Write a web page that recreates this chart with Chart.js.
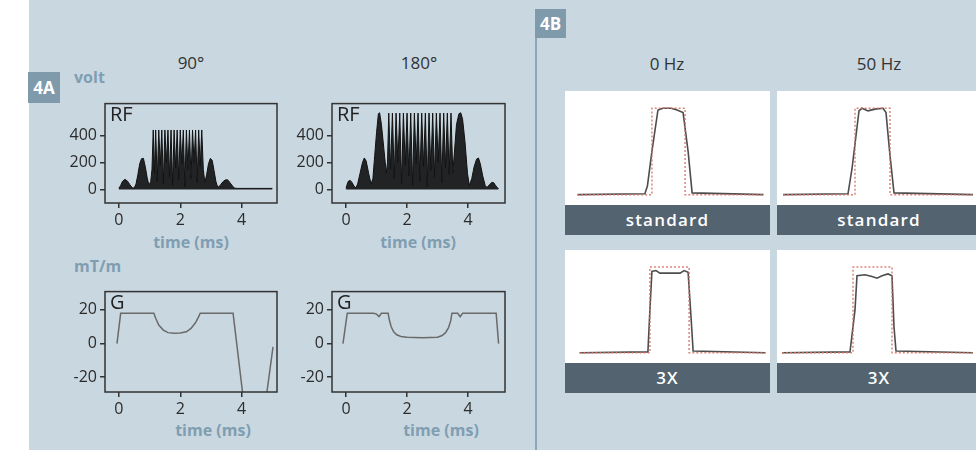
<!DOCTYPE html>
<html>
<head>
<meta charset="utf-8">
<script src="https://cdn.jsdelivr.net/npm/chart.js@4.4.1/dist/chart.umd.min.js"></script>
<style>
  body { margin: 0; width: 976px; height: 450px; overflow: hidden; background: #c9d7e0; font-family: "Open Sans", sans-serif; position: relative; }
  .abs { position: absolute; }
  .strip { left: 0; top: 0; width: 29px; height: 450px; background: #fff; }
  .tag { background: #7e9aab; color: #fff; font-weight: bold; font-size: 17px; text-align: center; }
  .title { color: #333; font-size: 17px; transform: translate(-50%, -50%); white-space: nowrap; }
  .axt { color: #7f9eb1; font-weight: bold; font-size: 16px; transform: translate(-50%, -50%); white-space: nowrap; }
  .unit { color: #7f9eb1; font-weight: bold; font-size: 16px; white-space: nowrap; }
  .bar { background: #53636f; color: #fff; font-weight: 600; font-size: 17px; letter-spacing: 1.2px; text-align: center; }
  .divider { left: 535px; top: 38px; width: 2px; height: 412px; background: #8ba6b6; }
  canvas.prof { background: #fff; }
</style>
</head>
<body>
<div class="abs strip"></div>
<div class="abs tag" style="left:28px;top:72px;width:32px;height:31px;line-height:31px;">4A</div>
<div class="abs tag" style="left:535px;top:9px;width:31px;height:29px;line-height:29px;">4B</div>
<div class="abs divider"></div>

<div class="abs title" style="left:191px;top:62px;">90°</div>
<div class="abs title" style="left:419px;top:62px;">180°</div>
<div class="abs unit" style="left:74px;top:66px;">volt</div>
<div class="abs unit" style="left:74px;top:255px;">mT/m</div>
<div class="abs axt" style="left:191px;top:242px;">time (ms)</div>
<div class="abs axt" style="left:418px;top:242px;">time (ms)</div>
<div class="abs axt" style="left:213px;top:430px;">time (ms)</div>
<div class="abs axt" style="left:441px;top:430px;">time (ms)</div>

<div class="abs title" style="left:667px;top:63px;">0 Hz</div>
<div class="abs title" style="left:879px;top:63px;">50 Hz</div>

<canvas id="rf90" class="abs"></canvas>
<canvas id="rf180" class="abs"></canvas>
<canvas id="g90" class="abs"></canvas>
<canvas id="g180" class="abs"></canvas>

<canvas id="p1" class="abs prof"></canvas>
<canvas id="p2" class="abs prof"></canvas>
<canvas id="p3" class="abs prof"></canvas>
<canvas id="p4" class="abs prof"></canvas>

<div class="abs bar" style="left:565px;top:205px;width:205px;height:30px;line-height:30px;">standard</div>
<div class="abs bar" style="left:777px;top:205px;width:204px;height:30px;line-height:30px;">standard</div>
<div class="abs bar" style="left:565px;top:363px;width:205px;height:30px;line-height:30px;">3X</div>
<div class="abs bar" style="left:777px;top:363px;width:204px;height:30px;line-height:30px;">3X</div>

<script>
// RF amplitude (volt) vs time (ms)
var rf90Time = [0.0, 0.06, 0.12, 0.2, 0.28, 0.36, 0.44, 0.5, 0.56, 0.62, 0.68, 0.74, 0.8, 0.86, 0.92, 0.98, 1.04, 1.08,
  1.12, 1.16, 1.20, 1.25, 1.30, 1.35, 1.40, 1.45, 1.50, 1.55, 1.60, 1.65, 1.70, 1.75, 1.80, 1.85, 1.90, 1.95, 2.00,
  2.05, 2.10, 2.15, 2.20, 2.25, 2.30, 2.35, 2.40, 2.45, 2.50, 2.55, 2.60, 2.65, 2.70,
  2.75, 2.8, 2.86, 2.92, 2.98, 3.04, 3.1, 3.16, 3.22, 3.3, 3.38, 3.46, 3.54, 3.62, 3.7, 3.77, 3.85, 4.3, 5.0];
var rf90Volt = [8, 30, 60, 75, 62, 35, 12, 10, 40, 110, 190, 228, 230, 170, 90, 30, 60, 150,
  440, 120, 440, 60, 440, 180, 440, 40, 440, 200, 440, 90, 440, 30, 440, 160, 440, 70, 440,
  190, 440, 20, 440, 150, 440, 80, 440, 200, 440, 50, 440, 170, 440,
  150, 50, 110, 190, 230, 215, 140, 60, 15, 30, 55, 70, 72, 50, 25, 10, 8, 8, 8];

var rf180Time = [0.0, 0.04, 0.08, 0.14, 0.2, 0.26, 0.32, 0.38, 0.46, 0.54, 0.6, 0.66, 0.74, 0.82, 0.88, 0.94, 1.0, 1.06, 1.1, 1.16, 1.24, 1.32, 1.36,
  1.40, 1.46, 1.52, 1.58, 1.64, 1.70, 1.76, 1.82, 1.88, 1.94, 2.00, 2.06, 2.12, 2.18, 2.24, 2.30, 2.36, 2.42,
  2.48, 2.54, 2.60, 2.66, 2.72, 2.78, 2.84, 2.90, 2.96, 3.02, 3.08, 3.14, 3.20, 3.26, 3.32, 3.38, 3.44,
  3.50, 3.56, 3.62, 3.70, 3.76, 3.82, 3.9, 3.98, 4.04, 4.12, 4.2, 4.28, 4.34, 4.4, 4.48, 4.56, 4.62, 4.7, 4.78, 4.84, 4.9, 4.96, 5.0];
var rf180Volt = [8, 40, 62, 67, 50, 25, 12, 40, 120, 200, 233, 210, 120, 40, 80, 250, 420, 560, 567, 480, 300, 120, 200,
  565, 150, 565, 80, 565, 200, 565, 40, 565, 180, 565, 100, 565, 30, 565, 190, 565, 60,
  565, 170, 565, 20, 565, 140, 565, 90, 565, 200, 565, 50, 565, 160, 565, 110, 565,
  120, 300, 480, 560, 567, 520, 350, 120, 30, 80, 170, 225, 233, 190, 100, 30, 15, 35, 53, 50, 30, 12, 8];

// gradient (mT/m) vs time (ms)
var g90Time = [-0.06, 0.06, 0.5, 1.14, 1.2, 1.3, 1.45, 1.6, 1.8, 2.0, 2.2, 2.35, 2.5, 2.6, 2.65, 3.2, 3.72, 4.1, 4.74, 5.02];
var g90Grad = [0, 18, 18, 18, 15, 11, 8, 6.5, 6.2, 6.3, 7, 9, 12.5, 16, 18, 18, 18, -40, -40, -2];
var g180Time = [-0.1, 0.04, 0.9, 1.0, 1.08, 1.16, 1.38, 1.42, 1.48, 1.56, 1.66, 1.8, 2.0, 2.5, 3.0, 3.15, 3.26, 3.36, 3.43, 3.47, 3.66, 3.74, 3.82, 4.92, 5.0];
var g180Grad = [0, 18, 18, 17.5, 16, 18, 18, 14, 10, 7, 5.2, 4.2, 3.7, 3.4, 3.8, 4.8, 6.5, 9.5, 13.5, 18, 18, 16, 18, 18, 0];

var timeTicks = [0, 2, 4];
var voltTicks = [0, 200, 400];
var gradTicks = [-20, 0, 20];

// slice profiles: position (mm), normalized signal
var p1Ideal = { x: [-45, -7.75, -7.75, 8.75, 8.75, 47.75], y: [0, 0, 1, 1, 0, 0] };
var p1Meas = { x: [-44.75, -11.25, -10, -7.75, -4.75, -2.25, 1.75, 4.75, 7.75, 10.25, 12.25, 47.75],
  y: [0, 0.01, 0.1, 0.5, 0.98, 1.0, 1.0, 0.98, 0.95, 0.5, 0.02, 0] };
var p2Ideal = { x: [-48, -12, -12, 5.5, 5.5, 47], y: [0, 0, 1, 1, 0, 0] };
var p2Meas = { x: [-48, -15.5, -13.5, -10, -8.5, -5.5, -2, 2, 3.5, 5.3, 7.5, 47],
  y: [0, 0.01, 0.3, 0.97, 1.0, 0.97, 0.99, 1.0, 0.95, 0.5, 0.02, 0] };
var p3Ideal = { x: [-43.75, -8.75, -8.75, 10.75, 10.75, 48.75], y: [0, 0, 1, 1, 0, 0] };
var p3Meas = { x: [-43.75, -9.75, -8.75, -7.75, -5.75, -3.75, 2.25, 6.25, 8.25, 10.25, 11.75, 12.75, 48.75],
  y: [0, 0.01, 0.5, 0.95, 0.96, 0.93, 0.93, 0.93, 0.96, 0.94, 0.4, 0.02, 0] };
var p4Ideal = { x: [-48.5, -13, -13, 6.5, 6.5, 47], y: [0, 0, 1, 1, 0, 0] };
var p4Meas = { x: [-48.5, -14.5, -12, -11, -7, -3.5, -1, 1.5, 4.5, 6.5, 7.5, 8.5, 47],
  y: [0, 0.01, 0.5, 0.9, 0.91, 0.89, 0.87, 0.9, 0.92, 0.9, 0.3, 0.02, 0] };

function pts(xs, ys) {
  return xs.map(function (x, i) { return { x: x, y: ys[i] }; });
}

var tickFont = { family: "Open Sans", size: 16 };

var framePlugin = {
  id: 'frame',
  afterDraw: function (chart, args, opts) {
    var a = chart.chartArea, c = chart.ctx;
    c.save();
    c.strokeStyle = '#333';
    c.lineWidth = 1.5;
    c.strokeRect(a.left, a.top, a.right - a.left, a.bottom - a.top);
    if (opts.label) {
      c.fillStyle = '#222';
      c.font = '20px "Open Sans"';
      c.textBaseline = 'top';
      c.fillText(opts.label, a.left + 5, a.top + 2);
    }
    c.restore();
  }
};

function axis(min, max, ticks, isX) {
  return {
    type: 'linear',
    min: min,
    max: max,
    afterBuildTicks: function (s) { s.ticks = ticks.map(function (v) { return { value: v }; }); },
    afterFit: function (s) { if (isX) s.height = 30; else s.width = 60; },
    grid: { drawOnChartArea: false, drawTicks: true, tickLength: 5, color: '#333', lineWidth: 1.5 },
    border: { display: false },
    ticks: { font: tickFont, color: '#2b2b2b', padding: 3, autoSkip: false, maxRotation: 0 }
  };
}

function sigChart(id, box, xs, ys, xr, yr, yTicks, label, filled) {
  var cv = document.getElementById(id);
  var w = box.w + 62, h = box.h + 31;
  cv.width = w; cv.height = h;
  cv.style.left = (box.l - 60) + 'px';
  cv.style.top = (box.t - 1) + 'px';
  cv.style.width = w + 'px';
  cv.style.height = h + 'px';
  new Chart(cv, {
    type: 'line',
    data: {
      datasets: [{
        data: pts(xs, ys),
        borderColor: filled ? '#111' : '#6a6a6a',
        backgroundColor: filled ? 'rgba(10,10,10,0.88)' : 'transparent',
        borderWidth: filled ? 1 : 1.5,
        fill: filled ? 'origin' : false,
        pointRadius: 0,
        tension: 0
      }]
    },
    options: {
      responsive: false,
      animation: false,
      devicePixelRatio: 1,
      layout: { padding: { top: 1, right: 2, left: 0, bottom: 0 } },
      scales: {
        x: axis(xr[0], xr[1], timeTicks, true),
        y: axis(yr[0], yr[1], yTicks, false)
      },
      plugins: { legend: { display: false }, tooltip: { enabled: false }, frame: { label: label } }
    },
    plugins: [framePlugin]
  });
}

sigChart('rf90', { l: 105, t: 92, w: 172, h: 111 }, rf90Time, rf90Volt, [-0.45, 5.15], [-100, 635], voltTicks, 'RF', true);
sigChart('rf180', { l: 332, t: 92, w: 173, h: 111 }, rf180Time, rf180Volt, [-0.46, 5.21], [-100, 635], voltTicks, 'RF', true);
sigChart('g90', { l: 105, t: 280, w: 172, h: 112 }, g90Time, g90Grad, [-0.45, 5.15], [-28.8, 30.9], gradTicks, 'G', false);
sigChart('g180', { l: 332, t: 280, w: 173, h: 112 }, g180Time, g180Grad, [-0.46, 5.21], [-28.8, 30.9], gradTicks, 'G', false);

function profChart(id, box, ideal, meas) {
  var cv = document.getElementById(id);
  cv.width = box.w; cv.height = box.h;
  cv.style.left = box.l + 'px';
  cv.style.top = box.t + 'px';
  cv.style.width = box.w + 'px';
  cv.style.height = box.h + 'px';
  new Chart(cv, {
    type: 'line',
    data: {
      datasets: [{
        data: pts(ideal.x, ideal.y),
        borderColor: 'rgba(214,112,98,0.85)',
        borderDash: [2, 2],
        borderWidth: 1.5,
        pointRadius: 0,
        fill: false
      }, {
        data: pts(meas.x, meas.y),
        borderColor: '#4d4d4d',
        borderWidth: 1.6,
        pointRadius: 0,
        fill: false,
        tension: 0
      }]
    },
    options: {
      responsive: false,
      animation: false,
      devicePixelRatio: 1,
      layout: { padding: 0 },
      scales: {
        x: { type: 'linear', min: -51, max: 51, display: false },
        y: { min: -0.12, max: 1.2, display: false }
      },
      plugins: { legend: { display: false }, tooltip: { enabled: false } }
    }
  });
}

profChart('p1', { l: 565, t: 91, w: 205, h: 114 }, p1Ideal, p1Meas);
profChart('p2', { l: 777, t: 91, w: 204, h: 114 }, p2Ideal, p2Meas);
profChart('p3', { l: 565, t: 250, w: 205, h: 113 }, p3Ideal, p3Meas);
profChart('p4', { l: 777, t: 250, w: 204, h: 113 }, p4Ideal, p4Meas);
</script>
</body>
</html>
